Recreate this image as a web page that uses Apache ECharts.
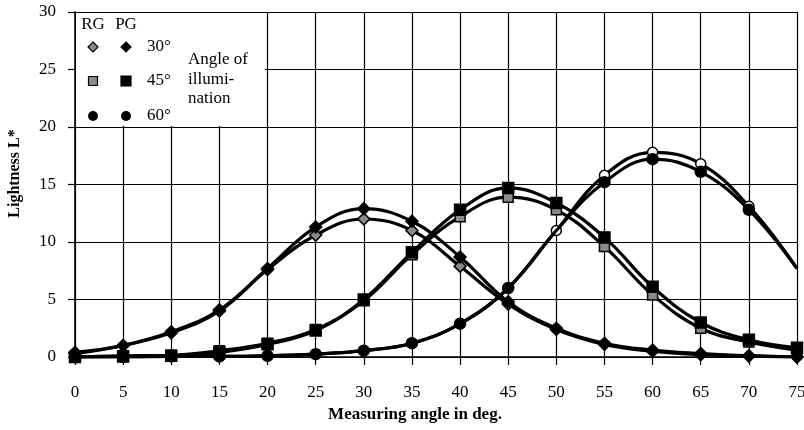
<!DOCTYPE html>
<html>
<head>
<meta charset="utf-8">
<script src="https://cdn.jsdelivr.net/npm/echarts@6/dist/echarts.min.js"></script>
<style>
  html, body { margin: 0; padding: 0; background: #fff; }
  #chart { width: 804px; height: 430px; }
</style>
</head>
<body>
<div id="chart"></div>
<script>
// Measuring angle (deg)
const angles = [0, 5, 10, 15, 20, 25, 30, 35, 40, 45, 50, 55, 60, 65, 70, 75];

// Lightness L* for RG / PG samples at three angles of illumination
const rg30 = [0.4, 1.0, 2.1, 4.0, 7.6, 10.6, 12.0, 11.0, 7.9, 4.6, 2.4, 1.1, 0.5, 0.2, 0.1, 0.0];
const pg30 = [0.3, 1.0, 2.2, 4.1, 7.7, 11.3, 12.9, 11.8, 8.7, 4.8, 2.5, 1.2, 0.6, 0.3, 0.1, 0.0];
const rg45 = [0.0, 0.1, 0.15, 0.55, 1.2, 2.4, 4.9, 8.9, 12.2, 13.9, 12.8, 9.6, 5.4, 2.5, 1.3, 0.6];
const pg45 = [0.0, 0.05, 0.1, 0.4, 1.1, 2.3, 5.0, 9.1, 12.8, 14.7, 13.4, 10.4, 6.1, 3.0, 1.5, 0.8];
const rg60 = [0.0, 0.0, 0.05, 0.05, 0.1, 0.25, 0.55, 1.2, 2.9, 6.0, 11.0, 15.8, 17.8, 16.8, 13.1, 7.7];
const pg60 = [0.0, 0.0, 0.05, 0.05, 0.1, 0.25, 0.55, 1.2, 2.9, 6.0, 11.0, 15.2, 17.2, 16.1, 12.8, 7.7];

// angles at which a curve passes without a plotted marker
const rg60Unmarked = [75];
const pg60Unmarked = [50, 75];

const FONT = '"Liberation Serif", "Times New Roman", serif';
const GRAY = '#8a8a8a';

function points(values, unmarked) {
  return values.map((v, i) => {
    const item = { value: [angles[i], v] };
    if (unmarked.includes(angles[i])) item.symbol = 'none';
    return item;
  });
}

function curve(name, values, symbol, fill, size, z, unmarked) {
  return {
    name: name,
    type: 'line',
    smooth: 0.4,
    data: points(values, unmarked || []),
    symbol: symbol,
    symbolSize: size,
    showAllSymbol: true,
    z: z,
    lineStyle: { color: '#000', width: 3.2 },
    itemStyle: { color: fill, borderColor: '#000', borderWidth: 1.5 },
    emphasis: { disabled: true }
  };
}

const chart = echarts.init(document.getElementById('chart'), null, { renderer: 'canvas' });

// legend block in the upper-left corner of the plot, on its own layer above the grid lines
const legendX1 = 93, legendX2 = 126;
const rowY = [47, 81, 116];
function diamond(cx, cy, r, fill) {
  return { type: 'polygon', zlevel: 1, z: 11, shape: { points: [[cx, cy - r], [cx + r, cy], [cx, cy + r], [cx - r, cy]] },
           style: { fill: fill, stroke: '#000', lineWidth: 1.2 } };
}
function square(cx, cy, r, fill) {
  return { type: 'rect', zlevel: 1, z: 11, shape: { x: cx - r, y: cy - r, width: 2 * r, height: 2 * r },
           style: { fill: fill, stroke: '#000', lineWidth: 1.2 } };
}
function dot(cx, cy, r) {
  return { type: 'circle', zlevel: 1, z: 11, shape: { cx: cx, cy: cy, r: r }, style: { fill: '#000' } };
}
function label(x, y, text, align) {
  return { type: 'text', zlevel: 1, z: 11, x: x, y: y,
           style: { text: text, font: '17px ' + FONT, fill: '#000', align: align || 'left', verticalAlign: 'middle' } };
}

const legendGraphics = [
  { type: 'rect', zlevel: 1, z: 10, shape: { x: 76, y: 13, width: 189, height: 113 }, style: { fill: '#fff' } },
  label(legendX1, 25, 'RG', 'center'),
  label(legendX2, 25, 'PG', 'center'),
  diamond(legendX1, rowY[0], 5, GRAY),
  diamond(legendX2, rowY[0], 5, '#000'),
  label(147, rowY[0], '30°'),
  square(legendX1, rowY[1], 4.5, GRAY),
  square(legendX2, rowY[1], 5, '#000'),
  label(147, rowY[1], '45°'),
  dot(legendX1, rowY[2], 5),
  dot(legendX2, rowY[2], 5),
  label(147, rowY[2], '60°'),
  label(188, 60, 'Angle of'),
  label(188, 80, 'illumi-'),
  label(188, 99, 'nation')
];

const option = {
  animation: false,
  backgroundColor: '#fff',
  grid: { left: 75, right: 7, top: 12, bottom: 73, containLabel: false, outerBoundsMode: 'none' },
  xAxis: {
    type: 'value',
    min: 0, max: 75, interval: 5,
    name: 'Measuring angle in deg.',
    nameLocation: 'middle',
    nameGap: 48,
    nameTextStyle: { fontFamily: FONT, fontSize: 17, fontWeight: 'bold', color: '#000', padding: [0, 42, 0, 0] },
    axisLine: { lineStyle: { color: '#000', width: 1.5 } },
    axisTick: { show: true, length: 8, lineStyle: { color: '#000', width: 1.2 } },
    axisLabel: { fontFamily: FONT, fontSize: 17, color: '#000', margin: 27 },
    splitLine: { show: true, lineStyle: { color: '#000', width: 1.2 } }
  },
  yAxis: {
    type: 'value',
    min: 0, max: 30, interval: 5,
    name: 'Lightness L*',
    nameLocation: 'middle',
    nameGap: 52,
    nameRotate: 90,
    nameTextStyle: { fontFamily: FONT, fontSize: 16, fontWeight: 'bold', color: '#000', padding: [0, 0, 0, 22] },
    axisLine: { show: true, lineStyle: { color: '#000', width: 1.5 } },
    axisTick: { show: true, length: 7, lineStyle: { color: '#000', width: 1.2 } },
    axisLabel: { fontFamily: FONT, fontSize: 17, color: '#000', margin: 19 },
    splitLine: { show: true, lineStyle: { color: '#000', width: 1.2 } }
  },
  graphic: { elements: legendGraphics },
  series: [
    curve('RG 30°', rg30, 'diamond', GRAY, 12, 3),
    curve('PG 30°', pg30, 'diamond', '#000', 12, 4),
    curve('RG 45°', rg45, 'rect', GRAY, 10, 3),
    curve('PG 45°', pg45, 'rect', '#000', 11, 4),
    curve('RG 60°', rg60, 'circle', '#fff', 10, 3, rg60Unmarked),
    curve('PG 60°', pg60, 'circle', '#000', 11, 4, pg60Unmarked)
  ]
};

chart.setOption(option);
</script>
</body>
</html>
